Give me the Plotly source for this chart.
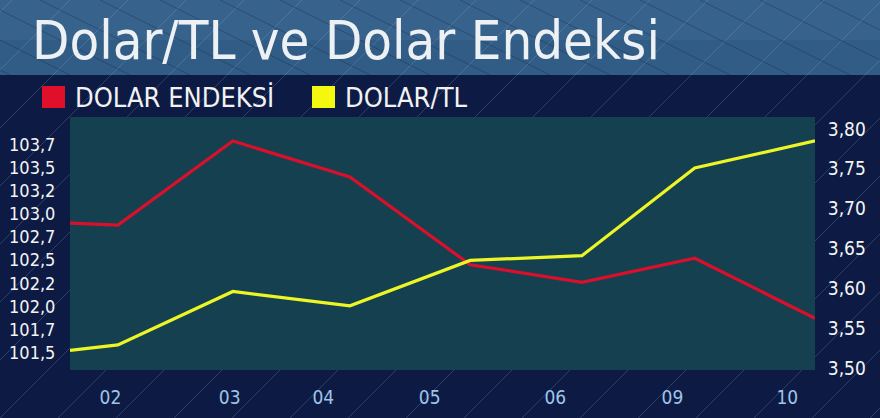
import plotly.graph_objects as go

# positions along the time axis (session index, irregular spacing)
x_pos = [0.0, 0.45, 1.53, 2.63, 3.76, 4.81, 5.87, 7.0]
dolar_endeksi = [102.90, 102.88, 103.79, 103.40, 102.45, 102.26, 102.52, 101.87]
dolar_tl = [3.522, 3.529, 3.596, 3.578, 3.635, 3.641, 3.751, 3.785]

x_tick_pos = [0.38, 1.50, 2.38, 3.38, 4.56, 5.66, 6.74]
x_tick_text = ["02", "03", "04", "05", "06", "09", "10"]

left_tick_vals = [101.5, 101.75, 102.0, 102.25, 102.5, 102.75, 103.0, 103.25, 103.5, 103.75]
left_tick_text = ["101,5", "101,7", "102,0", "102,2", "102,5", "102,7", "103,0", "103,2", "103,5", "103,7"]
right_tick_vals = [3.50, 3.55, 3.60, 3.65, 3.70, 3.75, 3.80]
right_tick_text = ["3,50", "3,55", "3,60", "3,65", "3,70", "3,75", "3,80"]

RED = "#d9102b"
YELLOW = "#ecf526"
FONT = "DejaVu Sans Condensed"

W, H = 880, 418
L, R, T, B = 70, 65, 117, 48
pw, ph = W - L - R, H - T - B


def px(x):
    return (x - L) / pw


def py(y):
    return (H - B - y) / ph


fig = go.Figure()
fig.add_trace(go.Scatter(x=x_pos, y=dolar_endeksi, mode="lines", name="DOLAR ENDEKSİ",
                         line=dict(color=RED, width=3.2), yaxis="y"))
fig.add_trace(go.Scatter(x=x_pos, y=dolar_tl, mode="lines", name="DOLAR/TL",
                         line=dict(color=YELLOW, width=3.2), yaxis="y2"))

shapes = []
# title band
shapes.append(dict(type="rect", xref="paper", yref="paper", x0=px(0), x1=px(W), y0=py(75), y1=py(0),
                   fillcolor="#36628c", line_width=0, layer="below"))
shapes.append(dict(type="rect", xref="paper", yref="paper", x0=px(0), x1=px(W), y0=py(75), y1=py(40),
                   fillcolor="#2b5680", opacity=0.5, line_width=0, layer="below"))
# diagonal texture
for i in range(-10, 24):
    x0 = i * 58
    shapes.append(dict(type="line", xref="paper", yref="paper", x0=px(x0), y0=py(H), x1=px(x0 + H), y1=py(0),
                       line=dict(color="rgba(150,190,230,0.22)", width=1), layer="below"))
for i in range(0, 26):
    x0 = i * 60 - 200
    shapes.append(dict(type="line", xref="paper", yref="paper", x0=px(x0), y0=py(0), x1=px(x0 + 150), y1=py(75),
                       line=dict(color="rgba(20,40,70,0.35)", width=1), layer="below"))
# plot area panel
shapes.append(dict(type="rect", xref="paper", yref="paper", x0=0, x1=1, y0=0, y1=1,
                   fillcolor="#15404f", line_width=0, layer="below"))
# legend swatches
shapes.append(dict(type="rect", xref="paper", yref="paper", x0=px(42), x1=px(65), y0=py(108), y1=py(86),
                   fillcolor="#e0102a", line_width=0))
shapes.append(dict(type="rect", xref="paper", yref="paper", x0=px(312), x1=px(335), y0=py(108), y1=py(86),
                   fillcolor="#f4f80e", line_width=0))

annotations = [
    dict(text="Dolar/TL ve Dolar Endeksi", xref="paper", yref="paper", x=px(30), y=py(41),
         xanchor="left", yanchor="middle", showarrow=False,
         font=dict(family=FONT, size=54, color="#eef1f4")),
    dict(text="DOLAR ENDEKSİ", xref="paper", yref="paper", x=px(73), y=py(97),
         xanchor="left", yanchor="middle", showarrow=False,
         font=dict(family=FONT, size=27, color="#f2f2f2")),
    dict(text="DOLAR/TL", xref="paper", yref="paper", x=px(343), y=py(97),
         xanchor="left", yanchor="middle", showarrow=False,
         font=dict(family=FONT, size=27, color="#f2f2f2")),
]

fig.update_layout(
    width=W, height=H,
    margin=dict(l=L, r=R, t=T, b=B, autoexpand=False),
    paper_bgcolor="#0d1b44",
    plot_bgcolor="rgba(0,0,0,0)",
    showlegend=False,
    shapes=shapes,
    annotations=annotations,
    xaxis=dict(range=[0, 7], tickvals=x_tick_pos, ticktext=x_tick_text, showgrid=False, zeroline=False,
               ticks="outside", ticklen=10, tickcolor="rgba(0,0,0,0)", automargin=False,
               tickfont=dict(family=FONT, size=19, color="#9fc4e8")),
    yaxis=dict(range=[101.31, 104.05], tickvals=left_tick_vals, ticktext=left_tick_text, automargin=False,
               showgrid=False, zeroline=False, ticks="outside", ticklen=10, tickcolor="rgba(0,0,0,0)",
               tickfont=dict(family=FONT, size=18, color="#f4f4f4")),
    yaxis2=dict(range=[3.4975, 3.815], tickvals=right_tick_vals, ticktext=right_tick_text, automargin=False,
                overlaying="y", side="right", showgrid=False, zeroline=False,
                ticks="outside", ticklen=8, tickcolor="rgba(0,0,0,0)",
                tickfont=dict(family=FONT, size=19, color="#f4f4f4")),
)

fig.write_html("out.html", config={"displayModeBar": False},
               post_script="document.body.style.margin='0px';")
